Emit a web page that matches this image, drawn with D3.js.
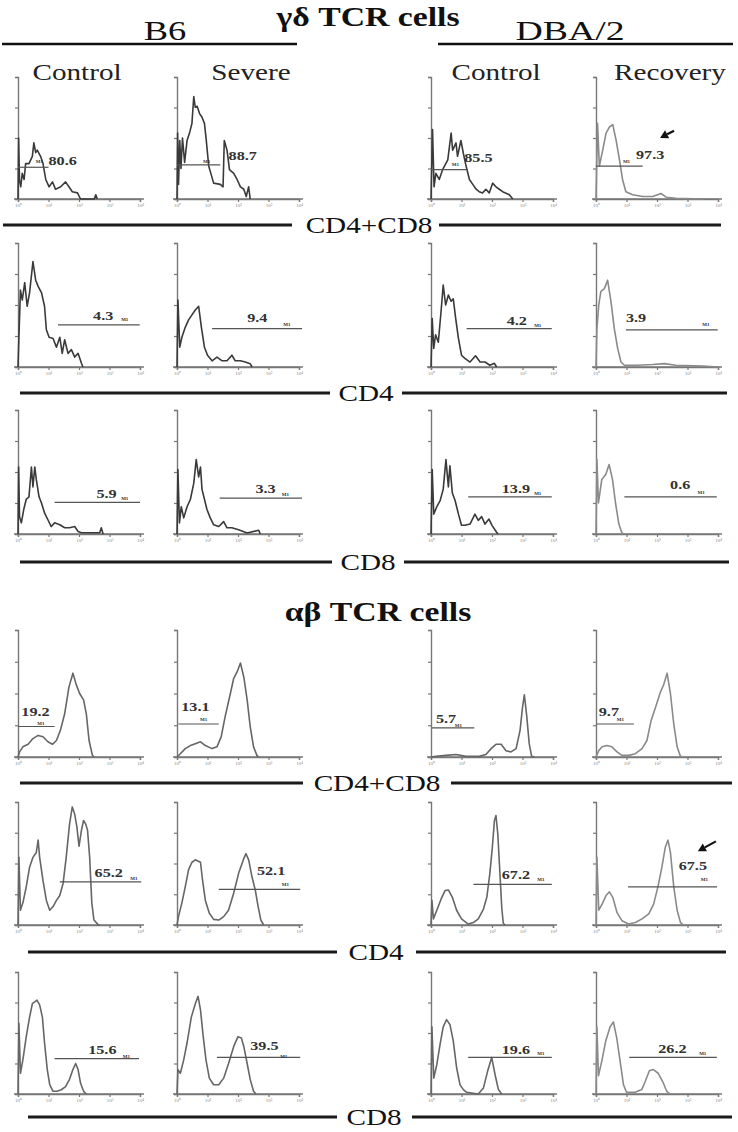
<!DOCTYPE html>
<html>
<head>
<meta charset="utf-8">
<script src="https://cdn.jsdelivr.net/npm/d3@7/dist/d3.min.js"></script>
<style>
  body { margin: 0; background: #fff; }
  svg { display: block; }
</style>
</head>
<body>
<svg id="fig"></svg>
<script>
// ---------- data ----------
const sectionTitles = ["γδ TCR cells", "αβ TCR cells"];
const strainLabels = ["B6", "DBA/2"];
const groupLabels = ["Control", "Severe", "Control", "Recovery"];
const markerLabels = ["CD4+CD8", "CD4", "CD8", "CD4+CD8", "CD4", "CD8"];
const xTickLabels = ["10⁰", "10¹", "10²", "10³", "10⁴"];
const yTickValues = [0, 0.25, 0.5, 0.75, 1];

// % of cells inside the gate, one row per histogram row
const gdPercents = [[80.6, 88.7, 85.5, 97.3], [4.3, 9.4, 4.2, 3.9], [5.9, 3.3, 13.9, 0.6]];
const abPercents = [[19.2, 13.1, 5.7, 9.7], [65.2, 52.1, 67.2, 67.5], [15.6, 39.5, 19.6, 26.2]];

// gate markers: [from decade, to decade, level]
const gdGates = [
  [[0, 1.0, 0.26], [0, 1.42, 0.28], [0, 1.15, 0.24], [0, 1.53, 0.27]],
  [[1.31, 3.99, 0.34], [1.15, 4.1, 0.31], [1.17, 3.96, 0.31], [0.98, 3.99, 0.3]],
  [[1.2, 4.0, 0.255], [1.4, 4.1, 0.29], [1.22, 3.96, 0.3], [0.93, 3.96, 0.3]]
];
const abGates = [
  [[0, 1.2, 0.24], [0.05, 1.37, 0.26], [0.03, 1.42, 0.23], [0.03, 1.24, 0.26]],
  [[1.37, 4.04, 0.35], [1.37, 4.04, 0.29], [1.39, 3.96, 0.33], [1.05, 3.97, 0.31]],
  [[1.2, 3.97, 0.29], [1.31, 4.04, 0.3], [1.22, 3.96, 0.3], [1.09, 3.96, 0.3]]
];

// histograms: [log decade, relative count]
const gdDoubleHist = [
  [[0,0],[0.02,0.5],[0.05,0.15],[0.09,0.1],[0.14,0.21],[0.2,0.16],[0.25,0.29],[0.36,0.29],[0.47,0.35],[0.52,0.46],[0.58,0.38],[0.63,0.4],[0.74,0.35],[0.82,0.29],[0.91,0.16],[1.02,0.1],[1.13,0.14],[1.23,0.08],[1.4,0.1],[1.56,0.14],[1.67,0.1],[1.78,0.06],[1.95,0.05],[2.05,0],[2.5,0],[2.55,0.035],[2.6,0]],
  [[0,0],[0.02,0.54],[0.05,0.12],[0.09,0.48],[0.13,0.25],[0.18,0.5],[0.25,0.3],[0.33,0.48],[0.42,0.55],[0.49,0.62],[0.55,0.84],[0.6,0.75],[0.66,0.76],[0.74,0.7],[0.82,0.67],[0.9,0.62],[0.96,0.48],[1.04,0.27],[1.11,0.21],[1.2,0.13],[1.42,0.12],[1.51,0.1],[1.55,0.48],[1.64,0.4],[1.72,0.24],[1.86,0.21],[1.97,0.16],[2.08,0.1],[2.19,0.08],[2.27,0.02],[2.35,0.1],[2.4,0]],
  [[0,0],[0.05,0.57],[0.1,0.1],[0.16,0.21],[0.27,0.16],[0.38,0.24],[0.55,0.32],[0.66,0.54],[0.71,0.4],[0.82,0.46],[0.87,0.35],[0.98,0.48],[1.06,0.375],[1.15,0.27],[1.26,0.16],[1.37,0.12],[1.48,0.08],[1.58,0.06],[1.69,0.05],[1.8,0.08],[1.91,0.05],[2.02,0.13],[2.13,0.1],[2.24,0.08],[2.35,0.06],[2.57,0.035],[2.68,0]],
  [[0,0],[0.05,0.62],[0.11,0.27],[0.22,0.4],[0.33,0.54],[0.44,0.59],[0.55,0.61],[0.66,0.48],[0.77,0.32],[0.87,0.16],[0.98,0.06],[1.2,0.035],[1.53,0.02],[1.86,0.02],[2.13,0.045],[2.3,0.015],[2.62,0.005],[3.5,0]]
];
const gdCD4Hist = [
  [[0,0],[0.03,0.24],[0.08,0.62],[0.14,0.54],[0.22,0.68],[0.3,0.49],[0.38,0.6],[0.49,0.85],[0.58,0.7],[0.66,0.65],[0.77,0.6],[0.87,0.49],[0.93,0.3],[1.02,0.24],[1.15,0.23],[1.26,0.16],[1.37,0.24],[1.45,0.11],[1.53,0.22],[1.64,0.11],[1.75,0.14],[1.86,0.08],[1.97,0.11],[2.08,0.03],[2.13,0]],
  [[0,0],[0.03,0.54],[0.09,0.16],[0.16,0.24],[0.27,0.32],[0.38,0.38],[0.49,0.42],[0.6,0.46],[0.71,0.49],[0.8,0.32],[0.9,0.16],[1.0,0.095],[1.15,0.05],[1.31,0.08],[1.48,0.05],[1.64,0.05],[1.8,0.095],[1.91,0.05],[2.08,0.05],[2.24,0.04],[2.4,0.027],[2.46,0]],
  [[0,0],[0.04,0.39],[0.09,0.15],[0.15,0.26],[0.24,0.2],[0.33,0.45],[0.4,0.66],[0.48,0.5],[0.57,0.58],[0.66,0.53],[0.73,0.55],[0.81,0.39],[0.9,0.23],[1.0,0.095],[1.11,0.07],[1.28,0.04],[1.46,0.09],[1.61,0.04],[1.77,0.04],[1.93,0.014],[2.08,0.03],[2.15,0]],
  [[0,0],[0.03,0.31],[0.09,0.5],[0.16,0.61],[0.27,0.63],[0.38,0.7],[0.49,0.53],[0.6,0.31],[0.71,0.15],[0.82,0.04],[0.93,0.014],[1.31,0.014],[1.86,0.02],[2.24,0.027],[2.62,0.014],[3.5,0.008],[4,0]]
];
const gdCD8Hist = [
  [[0,0],[0.02,0.54],[0.05,0.14],[0.11,0.09],[0.19,0.2],[0.27,0.28],[0.36,0.3],[0.44,0.54],[0.49,0.38],[0.55,0.54],[0.6,0.44],[0.69,0.3],[0.77,0.25],[0.87,0.17],[0.98,0.115],[1.09,0.06],[1.2,0.09],[1.37,0.075],[1.53,0.05],[1.69,0.05],[1.86,0.06],[1.97,0.02],[2.08,0.01],[2.68,0.01],[2.73,0.05],[2.79,0]],
  [[0,0],[0.03,0.52],[0.08,0.09],[0.14,0.22],[0.22,0.13],[0.33,0.22],[0.44,0.28],[0.55,0.41],[0.63,0.6],[0.71,0.46],[0.77,0.54],[0.82,0.36],[0.9,0.28],[0.98,0.2],[1.09,0.13],[1.2,0.075],[1.37,0.06],[1.53,0.1],[1.64,0.05],[1.8,0.05],[2.02,0.035],[2.3,0.008],[2.68,0.03],[2.73,0]],
  [[0,0],[0.04,0.52],[0.09,0.16],[0.19,0.22],[0.3,0.27],[0.4,0.36],[0.49,0.6],[0.57,0.38],[0.62,0.55],[0.7,0.33],[0.79,0.27],[0.9,0.16],[1.0,0.07],[1.11,0.07],[1.28,0.08],[1.44,0.16],[1.55,0.11],[1.66,0.14],[1.77,0.08],[1.9,0.12],[2.0,0.07],[2.15,0.014],[2.2,0]],
  [[0,0],[0.03,0.6],[0.08,0.25],[0.19,0.44],[0.32,0.48],[0.43,0.56],[0.54,0.44],[0.64,0.25],[0.75,0.08],[0.84,0.014],[0.9,0]]
];
const abDoubleHist = [
  [[0,0],[0.05,0.04],[0.16,0.08],[0.33,0.1],[0.49,0.145],[0.66,0.17],[0.82,0.16],[0.98,0.12],[1.13,0.1],[1.26,0.13],[1.39,0.21],[1.53,0.34],[1.67,0.55],[1.8,0.66],[1.91,0.57],[2.02,0.5],[2.15,0.45],[2.24,0.34],[2.33,0.13],[2.44,0.013],[2.5,0]],
  [[0,0],[0.11,0.026],[0.27,0.066],[0.44,0.09],[0.6,0.105],[0.77,0.12],[0.93,0.09],[1.15,0.066],[1.31,0.08],[1.45,0.16],[1.58,0.32],[1.75,0.5],[1.86,0.62],[1.97,0.67],[2.08,0.74],[2.19,0.63],[2.3,0.45],[2.4,0.24],[2.51,0.08],[2.62,0.013],[2.68,0]],
  [[0,0],[0.16,0.005],[0.49,0.013],[0.82,0.02],[1.15,0.005],[1.58,0.005],[1.8,0.02],[1.97,0.066],[2.13,0.1],[2.3,0.1],[2.46,0.05],[2.62,0.04],[2.79,0.066],[2.92,0.21],[3.0,0.39],[3.06,0.49],[3.14,0.32],[3.22,0.105],[3.3,0.005],[3.39,0]],
  [[0,0],[0.09,0.05],[0.2,0.08],[0.36,0.09],[0.52,0.08],[0.69,0.04],[0.85,0.013],[1.07,0.013],[1.29,0.026],[1.51,0.066],[1.67,0.13],[1.81,0.29],[1.95,0.39],[2.11,0.51],[2.22,0.57],[2.33,0.66],[2.44,0.5],[2.55,0.26],[2.66,0.08],[2.77,0.005],[2.87,0]]
];
const abCD4Hist = [
  [[0,0],[0.03,0.55],[0.08,0.12],[0.16,0.18],[0.27,0.31],[0.38,0.47],[0.49,0.55],[0.6,0.59],[0.66,0.69],[0.71,0.55],[0.82,0.36],[0.93,0.2],[1.04,0.12],[1.15,0.15],[1.26,0.2],[1.37,0.24],[1.48,0.34],[1.58,0.55],[1.69,0.82],[1.78,0.96],[1.86,0.9],[1.93,0.8],[2.0,0.64],[2.08,0.77],[2.15,0.85],[2.22,0.82],[2.28,0.77],[2.35,0.55],[2.42,0.18],[2.49,0.04],[2.62,0.005],[2.68,0]],
  [[0,0],[0.05,0.07],[0.16,0.18],[0.27,0.31],[0.38,0.45],[0.49,0.51],[0.6,0.53],[0.77,0.51],[0.84,0.36],[0.93,0.2],[1.06,0.095],[1.2,0.046],[1.37,0.04],[1.53,0.068],[1.69,0.12],[1.86,0.26],[2.02,0.42],[2.19,0.54],[2.26,0.58],[2.35,0.53],[2.46,0.39],[2.57,0.28],[2.66,0.15],[2.75,0.04],[2.84,0]],
  [[0,0],[0.03,0.2],[0.08,0.05],[0.19,0.12],[0.33,0.21],[0.46,0.28],[0.57,0.285],[0.7,0.225],[0.84,0.12],[1.0,0.05],[1.22,0.008],[1.39,0.02],[1.55,0.05],[1.72,0.13],[1.83,0.225],[1.93,0.42],[2.01,0.63],[2.08,0.85],[2.13,0.89],[2.19,0.74],[2.26,0.42],[2.32,0.14],[2.37,0.014],[2.43,0]],
  [[0,0],[0.03,0.55],[0.09,0.12],[0.2,0.17],[0.33,0.24],[0.44,0.27],[0.55,0.225],[0.69,0.1],[0.85,0.035],[1.07,0.008],[1.29,0.02],[1.51,0.05],[1.73,0.09],[1.89,0.17],[2.03,0.31],[2.16,0.47],[2.27,0.63],[2.36,0.69],[2.44,0.59],[2.55,0.31],[2.66,0.12],[2.77,0.02],[2.87,0]]
];
const abCD8Hist = [
  [[0,0],[0.03,0.58],[0.08,0.17],[0.16,0.28],[0.27,0.47],[0.38,0.63],[0.47,0.74],[0.55,0.755],[0.62,0.77],[0.71,0.73],[0.8,0.63],[0.87,0.42],[0.96,0.2],[1.04,0.076],[1.15,0.022],[1.28,0.022],[1.42,0.035],[1.56,0.06],[1.69,0.12],[1.8,0.2],[1.89,0.25],[1.97,0.2],[2.05,0.09],[2.15,0.022],[2.24,0]],
  [[0,0],[0.03,0.2],[0.11,0.17],[0.22,0.28],[0.33,0.42],[0.47,0.63],[0.6,0.74],[0.69,0.8],[0.77,0.69],[0.86,0.47],[0.95,0.28],[1.06,0.13],[1.2,0.076],[1.37,0.076],[1.53,0.13],[1.69,0.25],[1.86,0.39],[2.0,0.47],[2.11,0.46],[2.19,0.39],[2.3,0.25],[2.4,0.12],[2.51,0.022],[2.59,0]],
  [[0,0],[0.03,0.55],[0.09,0.13],[0.19,0.24],[0.3,0.41],[0.4,0.55],[0.51,0.61],[0.62,0.57],[0.73,0.435],[0.84,0.215],[0.95,0.077],[1.06,0.036],[1.17,0.014],[1.33,0.008],[1.55,0],[1.72,0.05],[1.86,0.19],[1.99,0.3],[2.1,0.16],[2.21,0.036],[2.32,0]],
  [[0,0],[0.03,0.55],[0.08,0.15],[0.19,0.27],[0.32,0.435],[0.46,0.55],[0.57,0.59],[0.68,0.46],[0.79,0.27],[0.9,0.077],[1.0,0.014],[1.28,0.014],[1.5,0.036],[1.61,0.1],[1.75,0.19],[1.88,0.2],[2.04,0.17],[2.19,0.1],[2.32,0.022],[2.43,0]]
];

// ---------- layout ----------
const width = 738, height = 1132;
const colX = [18, 177, 431, 596];
const rowBase = [199, 367, 534, 757, 925, 1094];
const rowHeight = [122, 124, 124, 127, 123, 122];
const plotW = 122;

// where the % text and the tiny "M1" sit, in panel units [decade, level]
const labelPos = [
  [[1.0,0.28],[1.69,0.32],[1.09,0.3],[1.31,0.33]],
  [[2.46,0.38],[2.3,0.36],[2.48,0.34],[0.98,0.36]],
  [[2.57,0.29],[2.57,0.33],[2.32,0.33],[2.43,0.36]],
  [[0.11,0.32],[0.14,0.36],[0.16,0.27],[0.09,0.32]],
  [[2.51,0.39],[2.62,0.41],[2.32,0.37],[2.71,0.45]],
  [[2.3,0.33],[2.4,0.36],[2.32,0.33],[2.04,0.34]]
];
const markPos = [
  [[0.7,0.31],[0.97,0.31],[0.8,0.29],[1.0,0.31]],
  [[3.5,0.39],[3.6,0.35],[3.5,0.34],[3.6,0.35]],
  [[3.5,0.29],[3.55,0.32],[3.5,0.33],[3.45,0.34]],
  [[0.75,0.27],[0.87,0.3],[0.9,0.25],[0.8,0.3]],
  [[3.8,0.38],[3.55,0.33],[3.6,0.37],[3.55,0.37]],
  [[3.55,0.31],[3.5,0.31],[3.6,0.34],[3.5,0.34]]
];
// arrows: [row, col, tail, head]
const arrows = [
  [0, 3, [2.56, 0.56], [2.1, 0.5]],
  [4, 3, [3.93, 0.68], [3.34, 0.6]]
];

// separator rules between rows
const sepY = [225, 393, 562, 783, 952, 1117];
const sepLeft = [[3, 292], [20, 330], [20, 332], [20, 303], [28, 337], [28, 337]];
const sepRight = [[439, 721], [402, 727], [404, 729], [451, 732], [416, 726], [412, 732]];
const sepLabelX = [369, 366, 368, 377, 376, 374];

const serif = "'Liberation Serif', 'Times New Roman', serif";
const stretch = 1.27;

const svg = d3.select("#fig")
    .attr("width", width)
    .attr("height", height)
    .attr("viewBox", `0 0 ${width} ${height}`);

svg.append("rect").attr("width", width).attr("height", height).attr("fill", "#fff");

// text with the horizontal stretch the scanned figure has
function stext(x, y, str, size, opts = {}) {
  return svg.append("text")
      .attr("transform", `translate(${x},${y}) scale(${opts.sx || stretch},1)`)
      .attr("text-anchor", opts.anchor || "middle")
      .attr("font-family", serif)
      .attr("font-size", size)
      .attr("font-weight", opts.bold ? "bold" : "normal")
      .attr("fill", opts.fill || "#111")
      .text(str);
}

// ---------- headers ----------
stext(368, 26, sectionTitles[0], 27, { bold: true, sx: 1.25 });
stext(165, 40, strainLabels[0], 27, { sx: 1.35 });
stext(570, 40, strainLabels[1], 27, { sx: 1.4 });
svg.append("line").attr("x1", 2).attr("x2", 297).attr("y1", 44).attr("y2", 44)
    .attr("stroke", "#111").attr("stroke-width", 2.5);
svg.append("line").attr("x1", 438).attr("x2", 733).attr("y1", 44).attr("y2", 44)
    .attr("stroke", "#111").attr("stroke-width", 2.5);
const groupX = [77, 251, 496, 670];
groupLabels.forEach((g, i) => stext(groupX[i], 80, g, 23, { fill: "#222" }));

stext(378, 621, sectionTitles[1], 27, { bold: true, sx: 1.25 });

// ---------- separators ----------
markerLabels.forEach((m, i) => {
  [sepLeft[i], sepRight[i]].forEach(seg => {
    svg.append("line")
        .attr("x1", seg[0]).attr("x2", seg[1])
        .attr("y1", sepY[i]).attr("y2", sepY[i])
        .attr("stroke", "#1a1a1a").attr("stroke-width", 3.2);
  });
  stext(sepLabelX[i], sepY[i] + 8, m, 23, { fill: "#111" });
});

// ---------- histogram panels ----------
const rows = [
  { hist: gdDoubleHist, gates: gdGates[0], pct: gdPercents[0] },
  { hist: gdCD4Hist, gates: gdGates[1], pct: gdPercents[1] },
  { hist: gdCD8Hist, gates: gdGates[2], pct: gdPercents[2] },
  { hist: abDoubleHist, gates: abGates[0], pct: abPercents[0] },
  { hist: abCD4Hist, gates: abGates[1], pct: abPercents[1] },
  { hist: abCD8Hist, gates: abGates[2], pct: abPercents[2] }
];

const scales = [];

rows.forEach((row, r) => {
  scales[r] = [];
  colX.forEach((cx, c) => {
    const x = d3.scaleLinear().domain([0, 4]).range([cx, cx + plotW]);
    const y = d3.scaleLinear().domain([0, 1]).range([rowBase[r], rowBase[r] - rowHeight[r]]);
    scales[r][c] = { x, y };
    const g = svg.append("g");

    // axes
    const xAxis = g.append("g")
        .attr("transform", `translate(0,${rowBase[r]})`)
        .call(d3.axisBottom(x).tickValues([0, 1, 2, 3, 4]).tickSize(3).tickPadding(1)
            .tickFormat((d, i) => xTickLabels[i]));
    const yAxis = g.append("g")
        .attr("transform", `translate(${cx},0)`)
        .call(d3.axisLeft(y).tickValues(yTickValues).tickSize(3).tickFormat(""));
    [xAxis, yAxis].forEach(a => {
      a.select(".domain").attr("stroke", "#777").attr("stroke-width", 1.4);
      a.selectAll(".tick line").attr("stroke", "#777").attr("stroke-width", 1.2);
      a.selectAll(".tick text").attr("font-size", 5).attr("fill", "#888")
          .attr("font-family", serif);
    });
    // x axis continues a little past the last decade
    g.append("line").attr("x1", cx - 4).attr("x2", cx + plotW + 4)
        .attr("y1", rowBase[r]).attr("y2", rowBase[r])
        .attr("stroke", "#777").attr("stroke-width", 1.4);

    // histogram trace
    const dark = r < 3 && c < 3;
    g.append("path")
        .datum(row.hist[c])
        .attr("fill", "none")
        .attr("stroke", dark ? "#3a3a3a" : (c === 3 ? "#8a8a8a" : "#666"))
        .attr("stroke-width", 1.6)
        .attr("stroke-linejoin", "round")
        .attr("d", d3.line().x(d => x(d[0])).y(d => y(d[1])));

    // gate bar
    const gate = row.gates[c];
    g.append("line")
        .attr("x1", x(gate[0])).attr("x2", x(gate[1]))
        .attr("y1", y(gate[2])).attr("y2", y(gate[2]))
        .attr("stroke", "#555").attr("stroke-width", 1.2);

    // gate percentage and the tiny marker name
    const lp = labelPos[r][c];
    g.append("text")
        .attr("transform", `translate(${x(lp[0])},${y(lp[1])}) scale(1.35,1)`)
        .attr("font-family", serif).attr("font-size", 12).attr("font-weight", "bold")
        .attr("fill", "#333")
        .text(d3.format(".1f")(row.pct[c]));
    const mp = markPos[r][c];
    g.append("text")
        .attr("x", x(mp[0])).attr("y", y(mp[1]) + 2)
        .attr("text-anchor", "middle")
        .attr("font-family", serif).attr("font-size", 5).attr("font-weight", "bold")
        .attr("fill", "#333")
        .text("M1");
  });
});

// ---------- arrows ----------
arrows.forEach(([r, c, tail, head]) => {
  const { x, y } = scales[r][c];
  const x1 = x(tail[0]), y1 = y(tail[1]), x2 = x(head[0]), y2 = y(head[1]);
  const ang = Math.atan2(y2 - y1, x2 - x1);
  const len = 8, wid = 4.5;
  const bx = x2 - len * Math.cos(ang), by = y2 - len * Math.sin(ang);
  svg.append("line").attr("x1", x1).attr("y1", y1).attr("x2", bx).attr("y2", by)
      .attr("stroke", "#111").attr("stroke-width", 2.2);
  svg.append("path")
      .attr("d", `M${x2},${y2} L${bx + wid * Math.sin(ang)},${by - wid * Math.cos(ang)} L${bx - wid * Math.sin(ang)},${by + wid * Math.cos(ang)} Z`)
      .attr("fill", "#111");
});
</script>
</body>
</html>
